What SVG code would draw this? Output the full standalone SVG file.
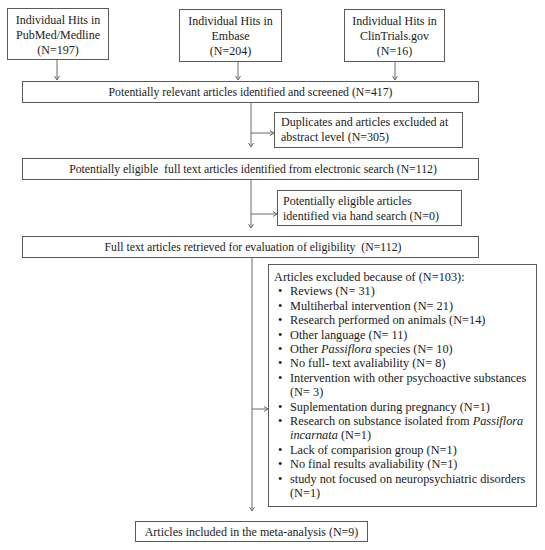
<svg xmlns="http://www.w3.org/2000/svg" width="545" height="550" viewBox="0 0 545 550">
<style>
.box{fill:#fff;stroke:#5a5a5a;stroke-width:1}
.t{font-family:"Liberation Serif","Times New Roman",serif;font-size:12px;fill:#1a1a1a}
.w{font-size:11.75px}
.x{font-size:12.3px}
.c{text-anchor:middle}
.ln{fill:none;stroke:#6a6a6a;stroke-width:1}
</style>
<defs>
<marker id="ah" markerWidth="8" markerHeight="8" refX="6" refY="4" orient="auto" markerUnits="userSpaceOnUse">
<polyline points="2,1.5 6,4 2,6.5" fill="none" stroke="#6a6a6a" stroke-width="1"/>
</marker>
</defs>
<rect width="545" height="550" fill="#fff"/>
<g id="connectors">
<line class="ln" x1="57" y1="59" x2="57" y2="80" marker-end="url(#ah)"/>
<line class="ln" x1="238" y1="62" x2="238" y2="80" marker-end="url(#ah)"/>
<line class="ln" x1="395" y1="62" x2="395" y2="80" marker-end="url(#ah)"/>
<line class="ln" x1="251" y1="102" x2="251" y2="147" marker-end="url(#ah)"/>
<line class="ln" x1="251" y1="133" x2="274" y2="133" marker-end="url(#ah)"/>
<line class="ln" x1="251" y1="179" x2="251" y2="228" marker-end="url(#ah)"/>
<line class="ln" x1="251" y1="214" x2="277" y2="214" marker-end="url(#ah)"/>
<line class="ln" x1="252" y1="257" x2="252" y2="511" marker-end="url(#ah)"/>
<line class="ln" x1="252" y1="409" x2="268" y2="409" marker-end="url(#ah)"/>
</g>
<g id="pubmed">
<rect class="box" x="7.5" y="8.5" width="101" height="51"/>
<text class="t c" x="58" y="24">Individual Hits in</text>
<text class="t c" x="58" y="39">PubMed/Medline</text>
<text class="t c" x="58" y="54">(N=197)</text>
</g>
<g id="embase">
<rect class="box" x="179.5" y="9.5" width="102" height="52"/>
<text class="t c" x="230.5" y="25">Individual Hits in</text>
<text class="t c" x="230.5" y="40">Embase</text>
<text class="t c" x="230.5" y="55">(N=204)</text>
</g>
<g id="clintrials">
<rect class="box" x="344.5" y="9.5" width="100" height="52"/>
<text class="t c" x="394.5" y="25">Individual Hits in</text>
<text class="t c" x="394.5" y="40">ClinTrials.gov</text>
<text class="t c" x="394.5" y="55">(N=16)</text>
</g>
<g id="screened">
<rect class="box" x="22.5" y="81.5" width="456" height="21"/>
<text class="t w c" x="250.5" y="96">Potentially relevant articles identified and screened (N=417)</text>
</g>
<g id="duplicates">
<rect class="box" x="274.5" y="112.5" width="188" height="35"/>
<text class="t" x="281" y="126">Duplicates and articles excluded at</text>
<text class="t" x="281" y="141">abstract level (N=305)</text>
</g>
<g id="eligible">
<rect class="box" x="22.5" y="158.5" width="456" height="21"/>
<text class="t w c" x="253" y="173" xml:space="preserve">Potentially eligible  full text articles identified from electronic search (N=112)</text>
</g>
<g id="hand">
<rect class="box" x="277.5" y="190.5" width="184" height="35"/>
<text class="t" x="283" y="205">Potentially eligible articles</text>
<text class="t" x="283" y="220">identified via hand search (N=0)</text>
</g>
<g id="retrieved">
<rect class="box" x="22.5" y="236.5" width="456" height="21"/>
<text class="t w c" x="253" y="251" xml:space="preserve">Full text articles retrieved for evaluation of eligibility  (N=112)</text>
</g>
<g id="excluded">
<rect class="box" x="268.5" y="264.5" width="268" height="242"/>
<g class="t x">
<text x="274" y="281">Articles excluded because of (N=103):</text>
<text x="278" y="295.4">•</text><text x="290" y="295.4">Reviews (N= 31)</text>
<text x="278" y="309.8">•</text><text x="290" y="309.8">Multiherbal intervention (N= 21)</text>
<text x="278" y="324.2">•</text><text x="290" y="324.2">Research performed on animals (N=14)</text>
<text x="278" y="338.6">•</text><text x="290" y="338.6">Other language (N= 11)</text>
<text x="278" y="353">•</text><text x="290" y="353">Other <tspan font-style="italic">Passiflora</tspan> species (N= 10)</text>
<text x="278" y="367.4">•</text><text x="290" y="367.4">No full- text avaliability (N= 8)</text>
<text x="278" y="381.8">•</text><text x="290" y="381.8">Intervention with other psychoactive substances</text>
<text x="290" y="396.2">(N= 3)</text>
<text x="278" y="410.6">•</text><text x="290" y="410.6">Suplementation during pregnancy (N=1)</text>
<text x="278" y="425">•</text><text x="290" y="425">Research on substance isolated from <tspan font-style="italic">Passiflora</tspan></text>
<text x="290" y="439.4"><tspan font-style="italic">incarnata</tspan> (N=1)</text>
<text x="278" y="453.8">•</text><text x="290" y="453.8">Lack of comparision group (N=1)</text>
<text x="278" y="468.2">•</text><text x="290" y="468.2">No final results avaliability (N=1)</text>
<text x="278" y="482.6">•</text><text x="290" y="482.6">study not focused on neuropsychiatric disorders</text>
<text x="290" y="497">(N=1)</text>
</g>
</g>
<g id="included">
<rect class="box" x="135.5" y="521.5" width="232" height="20"/>
<text class="t c" x="251.5" y="536">Articles included in the meta-analysis (N=9)</text>
</g>
</svg>
